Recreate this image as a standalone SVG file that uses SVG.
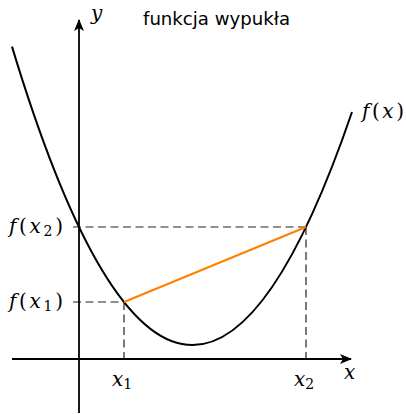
<svg xmlns="http://www.w3.org/2000/svg" width="406" height="414" viewBox="0 0 406 414">
<style>
.axis{stroke:#000;stroke-width:1.8;fill:none}
.dash{stroke:#222;stroke-width:1.2;stroke-dasharray:8,4.5;fill:none}
.curve{stroke:#000;stroke-width:2;fill:none}
.chord{stroke:#ff8000;stroke-width:2;fill:none}
.m{font-family:"DejaVu Serif","Liberation Serif",serif;font-style:italic;font-size:20px;fill:#000}
.mu{font-family:"DejaVu Serif","Liberation Serif",serif;font-size:20px;fill:#000}
.sub{font-family:"DejaVu Serif","Liberation Serif",serif;font-size:14px;fill:#000}
.t{font-family:"DejaVu Sans","Noto Sans",sans-serif;font-size:18px;fill:#000}
</style>
<defs>
<marker id="arr" viewBox="0 0 12 10" refX="11" refY="5" markerWidth="12" markerHeight="10" markerUnits="userSpaceOnUse" orient="auto">
<path d="M0,0 L12,5 L0,10 L3,5 Z" fill="#000"/>
</marker>
</defs>
<g id="connectors">
<line class="dash" x1="73" y1="227" x2="306" y2="227"/>
<line class="dash" x1="73" y1="302" x2="124" y2="302"/>
<line class="dash" x1="124" y1="302" x2="124" y2="364"/>
<line class="dash" x1="306" y1="227" x2="306" y2="364"/>
<line id="x-axis" class="axis" x1="12" y1="359" x2="351" y2="359" marker-end="url(#arr)"/>
<line id="y-axis" class="axis" x1="79" y1="413" x2="79" y2="20" marker-end="url(#arr)"/>
<path id="curve" class="curve" d="M12,46.6 Q182,608.8 352,112"/>
<line id="chord" class="chord" x1="124" y1="302" x2="306" y2="227"/>
</g>
<g id="labels">
<text class="m" x="91" y="20">y</text>
<text class="t" x="143" y="25" textLength="147" lengthAdjust="spacingAndGlyphs">funkcja wypukła</text>
<text x="362" y="118" textLength="42" lengthAdjust="spacing"><tspan class="m">f</tspan><tspan class="mu">(</tspan><tspan class="m">x</tspan><tspan class="mu">)</tspan></text>
<text x="9" y="233" textLength="54" lengthAdjust="spacing"><tspan class="m">f</tspan><tspan class="mu">(</tspan><tspan class="m">x</tspan><tspan class="sub" dy="3">2</tspan><tspan class="mu" dy="-3">)</tspan></text>
<text x="9" y="308" textLength="54" lengthAdjust="spacing"><tspan class="m">f</tspan><tspan class="mu">(</tspan><tspan class="m">x</tspan><tspan class="sub" dy="3">1</tspan><tspan class="mu" dy="-3">)</tspan></text>
<text x="112" y="386"><tspan class="m">x</tspan><tspan class="sub" dy="3">1</tspan></text>
<text x="294" y="386"><tspan class="m">x</tspan><tspan class="sub" dy="3">2</tspan></text>
<text class="m" x="344" y="379">x</text>
</g>
</svg>
